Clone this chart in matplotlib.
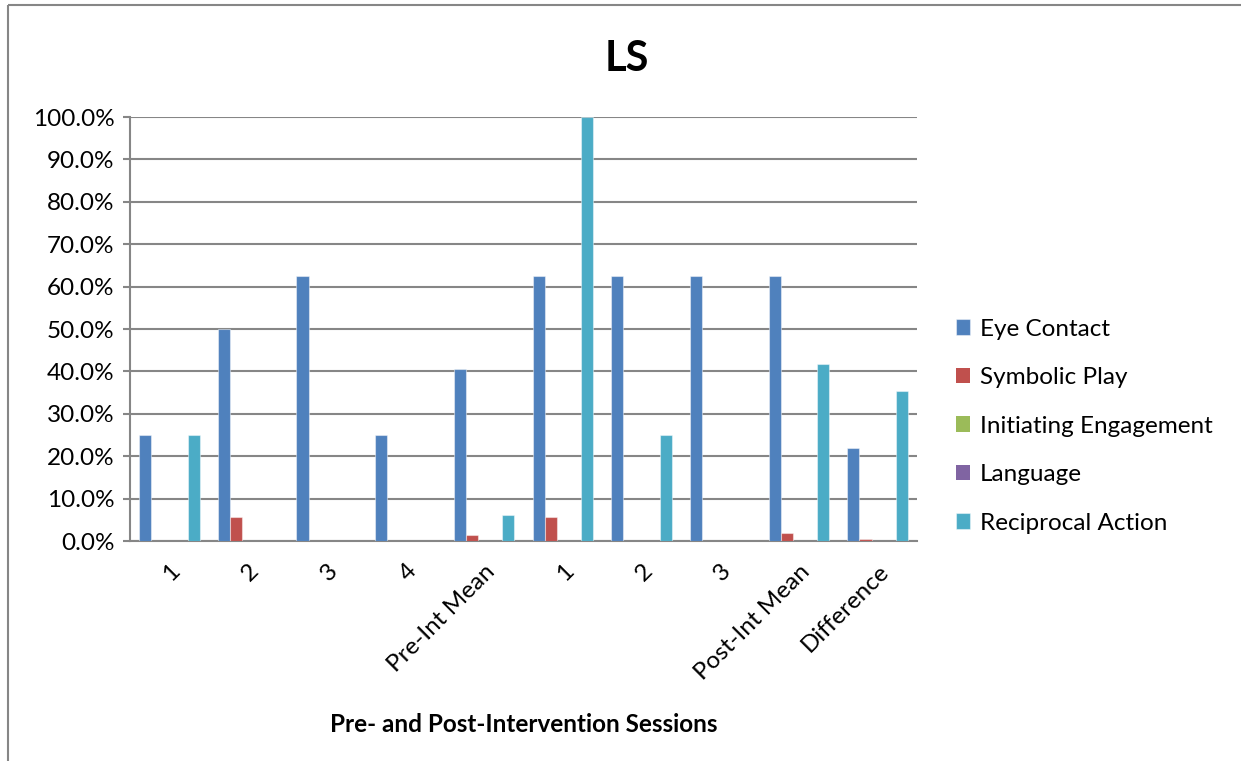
import matplotlib.pyplot as plt
import numpy as np
from matplotlib.lines import Line2D
from matplotlib.ticker import FuncFormatter

sessions = ["1", "2", "3", "4", "Pre-Int Mean", "1", "2", "3", "Post-Int Mean", "Difference"]
series_names = ["Eye Contact", "Symbolic Play", "Initiating Engagement", "Language", "Reciprocal Action"]
eye_contact = [25.0, 50.0, 62.5, 25.0, 40.6, 62.5, 62.5, 62.5, 62.5, 21.9]
symbolic_play = [0.0, 5.6, 0.0, 0.0, 1.4, 5.6, 0.0, 0.0, 1.9, 0.5]
initiating = [0.0, 0.0, 0.0, 0.0, 0.0, 0.0, 0.0, 0.0, 0.0, 0.0]
language = [0.0, 0.0, 0.0, 0.0, 0.0, 0.0, 0.0, 0.0, 0.0, 0.0]
reciprocal = [25.0, 0.0, 0.0, 0.0, 6.25, 100.0, 25.0, 0.0, 41.7, 35.4]
colors = ["#4F81BD", "#C0504D", "#9BBB59", "#8064A2", "#4BACC6"]

plt.rcParams['font.family'] = ['Lato', 'DejaVu Sans']
grid_gray = "#868686"

fig = plt.figure(figsize=(12.41, 7.61), dpi=100)
ax = fig.add_axes([130 / 1241, 220 / 761, 787 / 1241, 424 / 761])

x = np.arange(len(sessions))
w = 1 / 6.5
all_series = [eye_contact, symbolic_play, initiating, language, reciprocal]
handles = []
for i, (name, vals, c) in enumerate(zip(series_names, all_series, colors)):
    b = ax.bar(x + (i - 2) * w, vals, width=w, color=c, label=name,
               edgecolor=(1, 1, 1, 0.45), linewidth=0.8, zorder=3)
    for rect, v in zip(b, vals):
        if v == 0:
            rect.set_linewidth(0)
    handles.append(b)

ax.set_xlim(-0.5, len(sessions) - 0.5)
ax.set_ylim(0, 100)
ax.set_yticks(np.arange(0, 101, 10))
ax.yaxis.set_major_formatter(FuncFormatter(lambda v, p: f"{v:.1f}%"))
ax.yaxis.grid(True, color=grid_gray, linewidth=1.5, zorder=0)
ax.set_axisbelow(True)

for s in ["top", "right"]:
    ax.spines[s].set_visible(False)
for s in ["left", "bottom"]:
    ax.spines[s].set_color(grid_gray)
    ax.spines[s].set_linewidth(1.5)

ax.tick_params(axis="y", direction="out", length=5, width=1.5, color=grid_gray,
               labelsize=17.5, pad=6)
ax.set_xticks(x)
ax.set_xticklabels(sessions, rotation=45, ha="right", va="top",
                   rotation_mode="anchor", fontsize=17.5)
ax.tick_params(axis="x", length=0, pad=14)

ax.set_xlabel("Pre- and Post-Intervention Sessions", fontsize=17.5, fontweight="bold",
              labelpad=0)
ax.xaxis.set_label_coords(0.5, -0.405)

fig.text(0.505, 0.922, "LS", ha="center", va="center", fontsize=30, fontweight="bold")

leg = fig.legend(handles=handles, loc="upper left", bbox_to_anchor=(946 / 1241, 1 - 309 / 761),
                 frameon=False, fontsize=17.5, handlelength=0.6, handleheight=0.6,
                 handletextpad=0.4, labelspacing=1.13, borderaxespad=0)

# chart frame: left and top edges
fig.add_artist(Line2D([8 / 1241, 8 / 1241], [0, 1 - 5 / 761], transform=fig.transFigure,
                      color=grid_gray, linewidth=1.5, solid_capstyle="butt"))
fig.add_artist(Line2D([8 / 1241, 1], [1 - 5 / 761, 1 - 5 / 761], transform=fig.transFigure,
                      color=grid_gray, linewidth=1.5, solid_capstyle="butt"))

fig.savefig("out.png", dpi=100)
